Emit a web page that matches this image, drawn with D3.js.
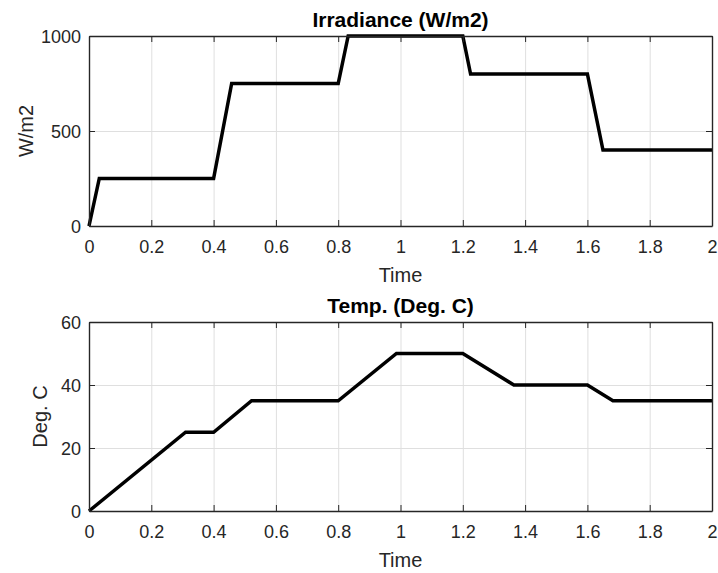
<!DOCTYPE html>
<html>
  <head>
    <meta http-equiv="Content-Type" content="text/html;charset=utf-8"/>
    <title>Irradiance and Temp.</title>
    <script src="https://d3js.org/d3.v7.min.js"></script>
  </head>
  <body>
    <div id="content"></div>
    <style>
      body { margin: 0; background: #fff; }
      svg { display: block; font-family: "Liberation Sans", Arial, sans-serif; }
      .grid line { stroke: #dfdfdf; stroke-width: 1; }
      .grid path { display: none; }
      .axis path, .axis line { stroke: #262626; }
      .axis text { fill: #262626; font-size: 18px; }
    </style>
    <script type="text/javascript">

        // irradiance profile (W/m2)
        const irrTime = [0, 0.033, 0.4, 0.458, 0.8, 0.832, 1.2, 1.225, 1.6, 1.65, 2]
        const irrValue = [0, 250, 250, 750, 750, 1000, 1000, 800, 800, 400, 400]

        // temperature profile (Deg. C)
        const tempTime = [0, 0.31, 0.4, 0.522, 0.8, 0.987, 1.2, 1.364, 1.6, 1.682, 2]
        const tempValue = [0, 25, 25, 35, 35, 50, 50, 40, 40, 35, 35]

        const xTicks = [0, 0.2, 0.4, 0.6, 0.8, 1, 1.2, 1.4, 1.6, 1.8, 2]
        const irrTicks = [0, 500, 1000]
        const tempTicks = [0, 20, 40, 60]

        const width = 718,
            height = 573

        const svg = d3.select("#content").append("svg")
            .attr("width", width)
            .attr("height", height)

        const left = 89, right = 712

        function drawPanel(top, bottom, times, values, yMax, yTicks, title, yLabel, yLabelX) {
            const x = d3.scaleLinear().domain([0, 2]).range([left, right])
            const y = d3.scaleLinear().domain([0, yMax]).range([bottom, top])
            const g = svg.append("g")

            // grid
            g.append("g").attr("class", "grid")
                .attr("transform", `translate(0,${bottom})`)
                .call(d3.axisBottom(x).tickValues(xTicks).tickSize(-(bottom - top)).tickFormat(""))
            g.append("g").attr("class", "grid")
                .attr("transform", `translate(${left},0)`)
                .call(d3.axisLeft(y).tickValues(yTicks).tickSize(-(right - left)).tickFormat(""))

            // data line
            const pts = times.map((t, i) => [t, values[i]])
            g.append("path")
                .datum(pts)
                .attr("fill", "none")
                .attr("stroke", "#000")
                .attr("stroke-width", 3.5)
                .attr("stroke-linejoin", "miter")
                .attr("d", d3.line().x(d => x(d[0])).y(d => y(d[1])))

            // box axes with inward ticks
            const fmt = d3.format("")
            g.append("g").attr("class", "axis")
                .attr("transform", `translate(0,${bottom})`)
                .call(d3.axisBottom(x).tickValues(xTicks).tickSize(-6).tickSizeOuter(0).tickPadding(14).tickFormat(fmt))
                .call(a => a.select(".domain").attr("stroke-width", 1.4))
            g.append("g").attr("class", "axis")
                .attr("transform", `translate(0,${top})`)
                .call(d3.axisTop(x).tickValues(xTicks).tickSize(-6).tickSizeOuter(0).tickFormat(""))
                .call(a => a.select(".domain").attr("stroke-width", 1.4))
            g.append("g").attr("class", "axis")
                .attr("transform", `translate(${left},0)`)
                .call(d3.axisLeft(y).tickValues(yTicks).tickSize(-6).tickSizeOuter(0).tickPadding(8).tickFormat(fmt))
                .call(a => a.select(".domain").attr("stroke-width", 1.4))
                .call(a => a.selectAll("text").attr("dy", "0.37em"))
            g.append("g").attr("class", "axis")
                .attr("transform", `translate(${right},0)`)
                .call(d3.axisRight(y).tickValues(yTicks).tickSize(-6).tickSizeOuter(0).tickFormat(""))
                .call(a => a.select(".domain").attr("stroke-width", 1.4))

            // title
            g.append("text")
                .attr("x", (left + right) / 2)
                .attr("y", top - 9)
                .attr("text-anchor", "middle")
                .attr("font-weight", "bold")
                .attr("font-size", 21)
                .attr("fill", "#000")
                .text(title)

            // x label
            g.append("text")
                .attr("x", (left + right) / 2)
                .attr("y", bottom + 56)
                .attr("text-anchor", "middle")
                .attr("font-size", 20)
                .attr("fill", "#262626")
                .text("Time")

            // y label
            g.append("text")
                .attr("transform", `translate(${yLabelX},${(top + bottom) / 2}) rotate(-90)`)
                .attr("text-anchor", "middle")
                .attr("font-size", 20)
                .attr("fill", "#262626")
                .text(yLabel)
        }

        drawPanel(36, 226, irrTime, irrValue, 1000, irrTicks, "Irradiance (W/m2)", "W/m2", 33)
        drawPanel(322, 511, tempTime, tempValue, 60, tempTicks, "Temp. (Deg. C)", "Deg. C", 47)

    </script>
  </body>
</html>
